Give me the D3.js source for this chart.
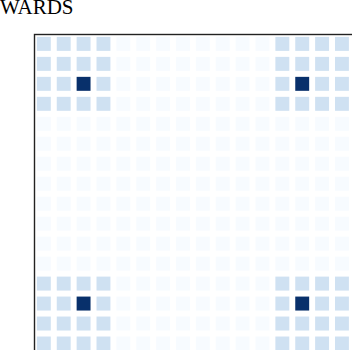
<!DOCTYPE html>
<html>
<head>
<meta charset="utf-8">
<script src="https://cdn.jsdelivr.net/npm/d3@7"></script>
<style>
  body { margin: 0; background: #fff; }
  .chart-title { font-family: "Liberation Serif", "Times New Roman", serif; font-size: 21px; fill: #000; }
</style>
</head>
<body>
<div id="rewards_chart"></div>
<script>
// grid rows / cols and the reward values
const rows = d3.range(16);
const cols = d3.range(16);
const rewards = [
    [0.2, 0.2, 0.2, 0.2, 0, 0, 0, 0, 0, 0, 0, 0, 0.2, 0.2, 0.2, 0.2],
    [0.2, 0.2, 0.2, 0.2, 0, 0, 0, 0, 0, 0, 0, 0, 0.2, 0.2, 0.2, 0.2],
    [0.2, 0.2, 1.0, 0.2, 0, 0, 0, 0, 0, 0, 0, 0, 0.2, 1.0, 0.2, 0.2],
    [0.2, 0.2, 0.2, 0.2, 0, 0, 0, 0, 0, 0, 0, 0, 0.2, 0.2, 0.2, 0.2],
    [0, 0, 0, 0, 0, 0, 0, 0, 0, 0, 0, 0, 0, 0, 0, 0],
    [0, 0, 0, 0, 0, 0, 0, 0, 0, 0, 0, 0, 0, 0, 0, 0],
    [0, 0, 0, 0, 0, 0, 0, 0, 0, 0, 0, 0, 0, 0, 0, 0],
    [0, 0, 0, 0, 0, 0, 0, 0, 0, 0, 0, 0, 0, 0, 0, 0],
    [0, 0, 0, 0, 0, 0, 0, 0, 0, 0, 0, 0, 0, 0, 0, 0],
    [0, 0, 0, 0, 0, 0, 0, 0, 0, 0, 0, 0, 0, 0, 0, 0],
    [0, 0, 0, 0, 0, 0, 0, 0, 0, 0, 0, 0, 0, 0, 0, 0],
    [0, 0, 0, 0, 0, 0, 0, 0, 0, 0, 0, 0, 0, 0, 0, 0],
    [0.2, 0.2, 0.2, 0.2, 0, 0, 0, 0, 0, 0, 0, 0, 0.2, 0.2, 0.2, 0.2],
    [0.2, 0.2, 1.0, 0.2, 0, 0, 0, 0, 0, 0, 0, 0, 0.2, 1.0, 0.2, 0.2],
    [0.2, 0.2, 0.2, 0.2, 0, 0, 0, 0, 0, 0, 0, 0, 0.2, 0.2, 0.2, 0.2],
    [0.2, 0.2, 0.2, 0.2, 0, 0, 0, 0, 0, 0, 0, 0, 0.2, 0.2, 0.2, 0.2]
];
const title = "REWARDS";

const margin = { top: 34.5, left: 34.5 };
const width = 316.8;
const height = 318.4;

const svg = d3.select("#rewards_chart")
    .append("svg")
    .attr("width", 352)
    .attr("height", 350)
    .style("display", "block");

const g = svg.append("g")
    .attr("transform", `translate(${margin.left}, ${margin.top})`);

// band scales, cells take ~70% of each step
const x_scale = d3.scaleBand()
    .domain(cols)
    .range([0, width])
    .paddingInner(0.3)
    .paddingOuter(0.12);
const y_scale = d3.scaleBand()
    .domain(rows)
    .range([0, height])
    .paddingInner(0.3)
    .paddingOuter(0.12);

const color = d3.scaleSequential(d3.interpolateBlues).domain([0, 1]);

// flatten to cells
const cells = [];
rows.forEach(r => cols.forEach(c => cells.push({ r: r, c: c, v: rewards[r][c] })));

g.append("g")
    .selectAll("rect")
    .data(cells)
    .join("rect")
    .attr("x", d => x_scale(d.c))
    .attr("y", d => y_scale(d.r))
    .attr("width", x_scale.bandwidth())
    .attr("height", y_scale.bandwidth())
    .attr("fill", d => color(d.v));

// frame around the plot (runs off the right / bottom edge)
g.append("rect")
    .attr("x", 0)
    .attr("y", 0)
    .attr("width", width + 4)
    .attr("height", height + 4)
    .attr("fill", "none")
    .attr("stroke", "#222")
    .attr("stroke-width", 1.4);

// title, cropped at the left like the picture
svg.append("text")
    .attr("class", "chart-title")
    .attr("x", -26.8)
    .attr("y", 13.5)
    .attr("text-anchor", "start")
    .text(title);
</script>
</body>
</html>
